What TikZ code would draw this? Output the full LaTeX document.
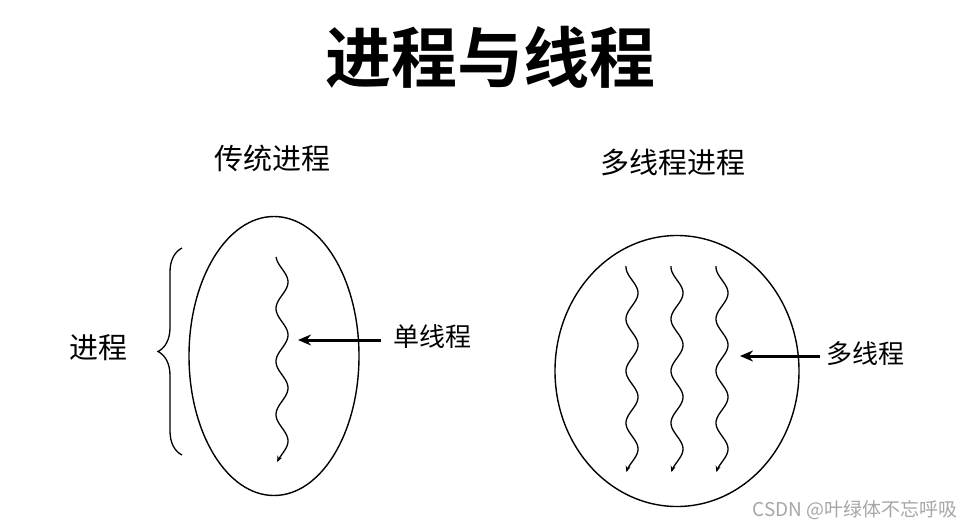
\documentclass[tikz,border=0pt]{standalone}
\usepackage{fontspec}
\setmainfont{Noto Sans CJK SC}
\newfontfamily\cjkbold{Noto Sans CJK SC Bold}
\usetikzlibrary{arrows.meta,decorations.pathreplacing,shapes.geometric}
\begin{document}
\begin{tikzpicture}[x=1pt,y=-1pt,
  lbl/.style={inner sep=0pt,font=\fontsize{26}{26}\selectfont},
  thread/.style={line width=1.3pt,-{Stealth[length=6pt,width=5pt]}},
  ptr/.style={line width=3pt,-{Stealth[length=13pt,width=11pt]}}]
\useasboundingbox (0,0) rectangle (974,528);
\node[inner sep=0pt,font=\cjkbold\fontsize{66}{66}\selectfont] (title) at (490,57) {进程与线程};
\node[lbl,font=\fontsize{29}{29}\selectfont] (t1) at (272,158) {传统进程};
\node[lbl,font=\fontsize{29}{29}\selectfont] (t2) at (673,162) {多线程进程};
\node[draw,line width=1.4pt,ellipse,minimum width=170,minimum height=279,inner sep=0pt] (p1) at (274,356) {};
\node[draw,line width=1.4pt,ellipse,minimum width=244,minimum height=271,inner sep=0pt] (p2) at (677,371) {};
\draw[thread] plot[domain=257:462,samples=120,smooth] ({282+6*cos(6.792*(\x-282))},\x);
\foreach \cx in {632,677,722}
  \draw[thread] plot[domain=266:472,samples=120,smooth] ({\cx+6*cos(6.923*(\x-293))},\x);
\node[lbl,anchor=west] (l1) at (393,337) {单线程};
\node[lbl,anchor=west] (l2) at (826,354) {多线程};
\coordinate (a1) at (298,340);
\coordinate (a2) at (740,356);
\draw[ptr] (l1.west |- a1) ++(-12,0) -- (a1);
\draw[ptr] (l2.west |- a2) ++(-6,0) -- (a2);
\draw[line width=1.3pt,decorate,decoration={brace,amplitude=24pt,aspect=0.5}] (182,455) -- (182,248);
\node[lbl,font=\fontsize{29}{29}\selectfont] (l0) at (98,348) {进程};
\node[inner sep=0pt,text=black!35,font=\fontsize{19}{19}\selectfont] (wm) at (855,510) {CSDN @叶绿体不忘呼吸};
\end{tikzpicture}
\end{document}
